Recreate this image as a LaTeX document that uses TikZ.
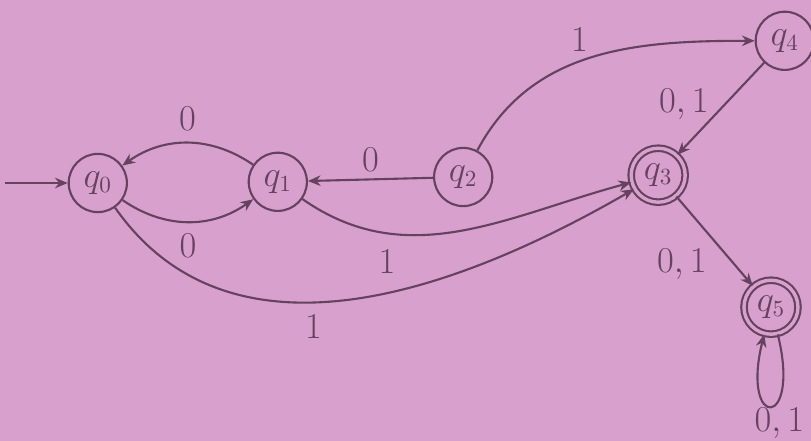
\documentclass[tikz,border=0pt]{standalone}
\usepackage{amsmath}
\usepackage{xcolor}
\usepackage{tikz}
\usetikzlibrary{arrows.meta,positioning,calc}
\definecolor{paper}{RGB}{216,160,204}
\definecolor{ink}{RGB}{100,66,96}

\begin{document}
\begin{tikzpicture}[
color=ink,
font=\fontsize{16}{19}\selectfont,
state/.style={draw, circle, line width=1pt, minimum size=0.97cm, inner sep=0pt},
final/.style={state, double=paper, double distance=1.6pt, minimum size=0.9cm},
arrow/.style={-{Stealth[length=6pt,width=5pt]}, line width=1pt}
]
\useasboundingbox (0,0) rectangle (13.517,7.35);
\fill[paper] (0,0) rectangle (13.517,7.35);
\node[state] (q0) at (1.63,4.30) {$q_0$};
\node[state] (q1) at (4.63,4.32) {$q_1$};
\node[state] (q2) at (7.72,4.40) {$q_2$};
\node[final] (q3) at (10.97,4.43) {$q_3$};
\node[state] (q4) at (13.08,6.67) {$q_4$};
\node[final] (q5) at (12.85,2.23) {$q_5$};
\coordinate (start) at (0.08,4.30);
\draw[arrow] (start) -- (q0);
\draw[arrow] (q0) to[bend right=35] node[below=2pt] {$0$} (q1);
\draw[arrow] (q1) to[bend right=35] node[above=2pt] {$0$} (q0);
\draw[arrow] (q2) -- node[above] {$0$} (q1);
\draw[arrow] (q2) to[out=62,in=180] node[above left=-2pt] {$1$} (q4);
\draw[arrow] (q4) -- node[left=4pt, pos=0.45] {$0,1$} (q3);
\draw[arrow] (q1) to[out=-35,in=195] node[below=4pt, pos=0.27] {$1$} (q3);
\draw[arrow] (q0) to[out=-55,in=-150] node[below=2pt, pos=0.43] {$1$} (q3);
\draw[arrow] (q3) -- node[below left] {$0,1$} (q5);
\draw[arrow] (q5) to[out=-76,in=-104,min distance=1.65cm] node[pos=0.5, anchor=north, yshift=3pt, xshift=4pt] {$0,1$} (q5);
\end{tikzpicture}
\end{document}
